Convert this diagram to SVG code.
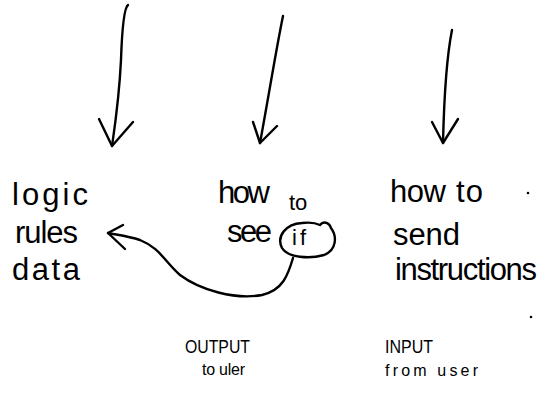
<svg xmlns="http://www.w3.org/2000/svg" width="541" height="393" viewBox="0 0 541 393">
<style>
text{font-family:"Liberation Sans","DejaVu Sans",sans-serif;fill:#000}
.l{font-size:31px}
.s{font-size:22px}
.b{font-size:18px}
.t{font-size:16px}
.k{fill:none;stroke:#000;stroke-width:2.4;stroke-linecap:round;stroke-linejoin:round}
</style>
<rect width="541" height="393" fill="#fff"/>
<g id="connectors">
<path class="k" d="M128,5 C124,8 122,30 121,60 C119,100 115,125 112,146"/>
<path class="k" d="M99,119 L112,146 L133,122"/>
<path class="k" d="M283,16 C276,50 268,100 260,143"/>
<path class="k" d="M253,122 L260,143 L277,126"/>
<path class="k" d="M452,30 C446,60 444,100 443,143"/>
<path class="k" d="M432,122 L443,143 L458,119"/>
<path class="k" d="M293,258 C288,275 283,290 262,295 C235,300 200,290 180,275 C165,262 160,248 140,240 C128,236 118,235 108,233"/>
<path class="k" d="M123,225 L108,233 L125,249"/>
</g>
<g id="logic">
<text class="l" x="12" y="205" textLength="76" lengthAdjust="spacing">logic</text>
<text class="l" x="15" y="243" textLength="63" lengthAdjust="spacing">rules</text>
<text class="l" x="12" y="280" textLength="68" lengthAdjust="spacing">data</text>
</g>
<g id="see">
<text class="l" x="218" y="203" textLength="52" lengthAdjust="spacing">how</text>
<text class="s" x="289" y="210">to</text>
<text class="l" x="227" y="242" textLength="45" lengthAdjust="spacing">see</text>
<path class="k" d="M282,248 C276,236 286,224 302,223 C310,222 316,223 320,225 C323,221 329,222 331,228 C337,236 337,250 324,255 C310,259 288,258 282,248 Z"/>
<text class="s" x="292" y="245" textLength="14" lengthAdjust="spacing">if</text>
</g>
<g id="send">
<text class="l" x="390" y="202" textLength="56" lengthAdjust="spacing">how</text>
<text class="l" x="456" y="202" textLength="27" lengthAdjust="spacing">to</text>
<text class="l" x="393" y="245" textLength="67" lengthAdjust="spacing">send</text>
<text class="l" x="395" y="280" textLength="142" lengthAdjust="spacing">instructions</text>
<circle cx="528" cy="193" r="1.3"/>
<circle cx="531" cy="317" r="1.3"/>
</g>
<g id="output">
<text class="b" x="185" y="353" textLength="65" lengthAdjust="spacingAndGlyphs">OUTPUT</text>
<text class="t" x="202" y="375" textLength="43" lengthAdjust="spacing">to uler</text>
</g>
<g id="input">
<text class="b" x="385" y="353" textLength="48" lengthAdjust="spacingAndGlyphs">INPUT</text>
<text class="t" x="385" y="376" textLength="93" lengthAdjust="spacing">from user</text>
</g>
</svg>
